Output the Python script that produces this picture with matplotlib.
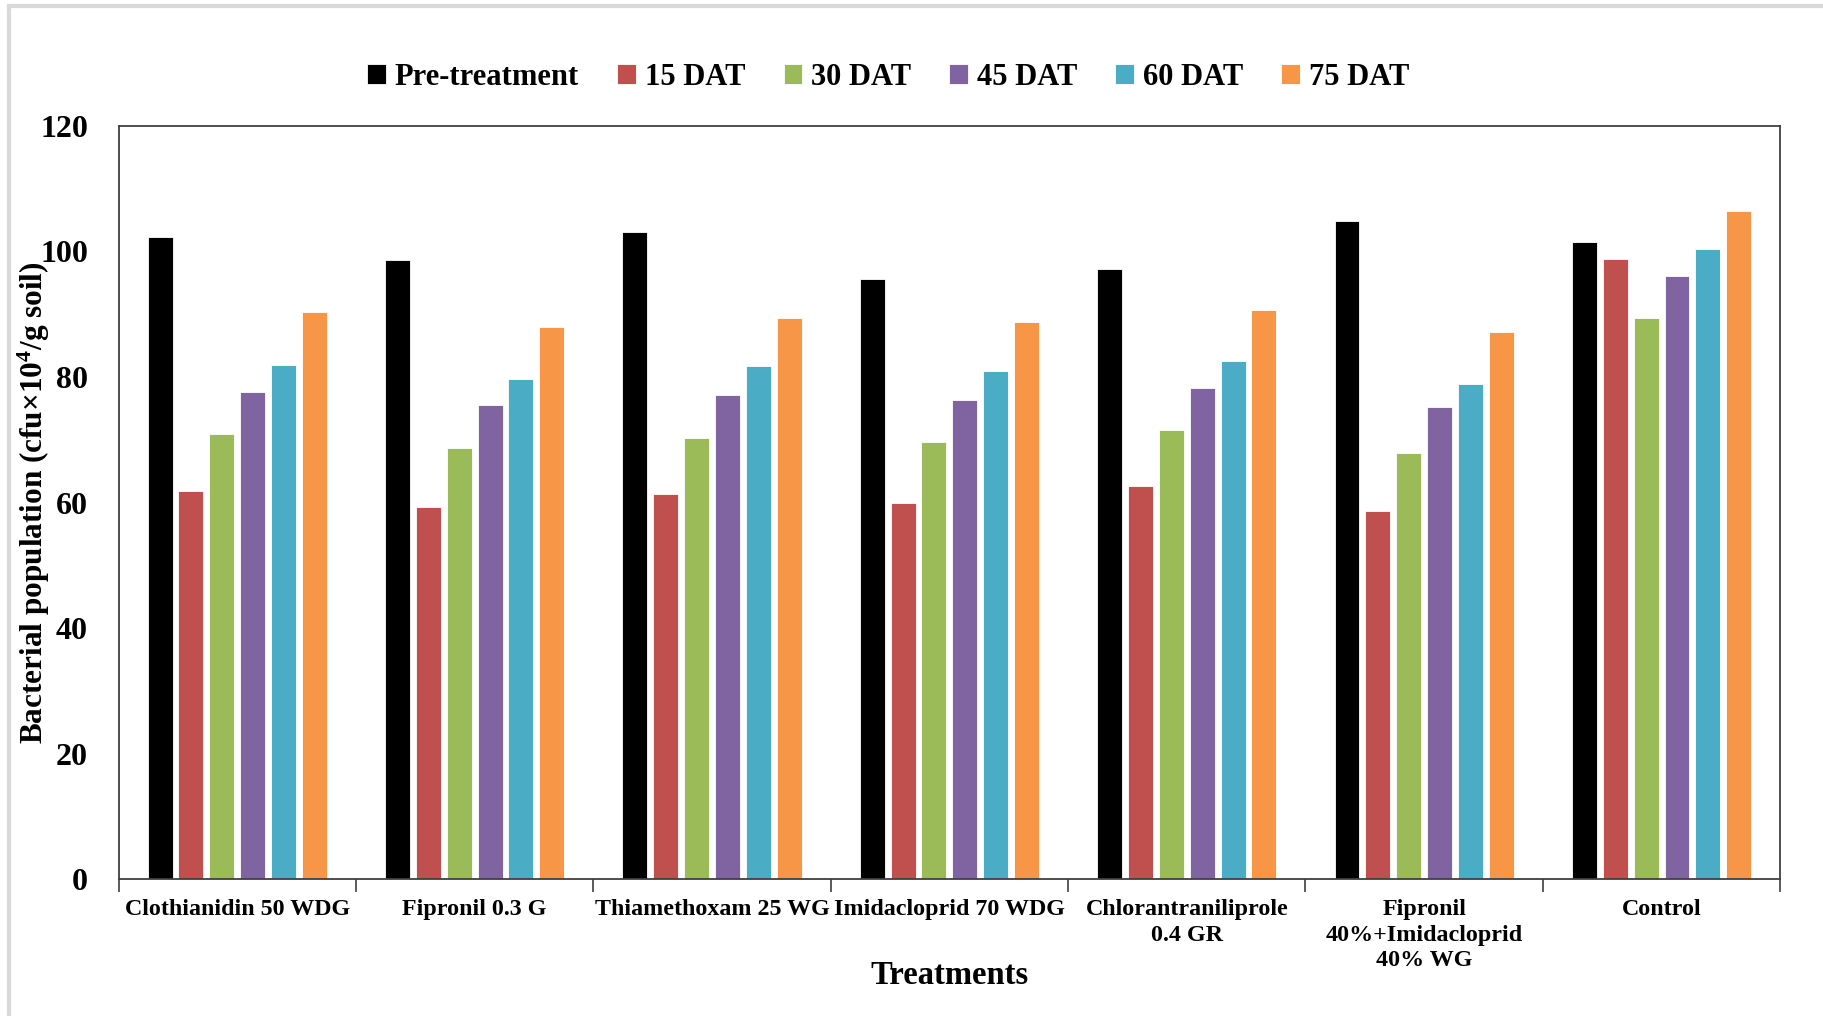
import matplotlib.pyplot as plt
import numpy as np

plt.rcParams['font.family'] = 'Liberation Serif'
plt.rcParams['font.weight'] = 'bold'
plt.rcParams['mathtext.fontset'] = 'custom'
plt.rcParams['mathtext.rm'] = 'Liberation Serif:bold'
plt.rcParams['mathtext.bf'] = 'Liberation Serif:bold'
plt.rcParams['mathtext.default'] = 'bf'

treatments = ['Clothianidin 50 WDG', 'Fipronil 0.3 G', 'Thiamethoxam 25 WG',
              'Imidacloprid 70 WDG', 'Chlorantraniliprole\n0.4 GR',
              'Fipronil\n40%+Imidacloprid\n40% WG', 'Control']
series_names = ['Pre-treatment', '15 DAT', '30 DAT', '45 DAT', '60 DAT', '75 DAT']

# values
pre_treatment = [102.3, 98.6, 103.0, 95.6, 97.1, 104.8, 101.4]
dat15 = [61.9, 59.3, 61.3, 59.9, 62.6, 58.7, 98.7]
dat30 = [70.9, 68.7, 70.3, 69.7, 71.5, 67.9, 89.3]
dat45 = [77.6, 75.6, 77.1, 76.3, 78.3, 75.2, 96.1]
dat60 = [81.9, 79.7, 81.7, 80.9, 82.6, 78.9, 100.3]
dat75 = [90.3, 88.0, 89.3, 88.7, 90.7, 87.2, 106.4]

colors = ['#000000', '#C0504D', '#9BBB59', '#8064A2', '#4BACC6', '#F79646']
all_series = [pre_treatment, dat15, dat30, dat45, dat60, dat75]

fig = plt.figure(figsize=(18.24, 10.16), dpi=100)
ax = fig.add_axes([0.065, 0.1344, 0.911, 0.742])

x = np.arange(len(treatments))
pitch = 0.13
width = 0.105
for i, (name, vals, c) in enumerate(zip(series_names, all_series, colors)):
    ax.bar(x + (i - 2.5) * pitch, vals, width, color=c, label=name,
           edgecolor='white', linewidth=0.6)

ax.set_xlim(-0.5, len(treatments) - 0.5)
ax.set_ylim(0, 120)
ax.set_yticks(np.arange(0, 121, 20))
ax.tick_params(axis='y', length=0, labelsize=23, pad=22)

ax.set_xticks(x)
ax.set_xticklabels(treatments, fontsize=17.3, fontweight='bold',
                   linespacing=1.3)
ax.set_xticks(np.arange(-0.5, len(treatments)), minor=True)
ax.tick_params(axis='x', which='major', length=0, pad=14)
ax.tick_params(axis='x', which='minor', length=9, width=1.2, color='#404040')

for s in ax.spines.values():
    s.set_color('#404040')
    s.set_linewidth(1.3)

ax.set_xlabel('Treatments', fontsize=23.5, fontweight='bold')
ax.xaxis.set_label_coords(0.5, -0.107)
ax.set_ylabel('Bacterial population (cfu×10$^{4}$/g soil)', fontsize=22.5,
              fontweight='bold')
ax.yaxis.set_label_coords(-0.04, 0.5)

leg = fig.legend(loc='center', bbox_to_anchor=(0.487, 0.924), ncol=6,
                 frameon=False, fontsize=22, handlelength=0.6,
                 handleheight=0.6, handletextpad=0.3, columnspacing=1.25)

# light gray outer frame like the reference screenshot
fig.add_artist(plt.Line2D([0.005, 0.005], [0, 0.994], color='#d9d9d9', lw=3,
                          transform=fig.transFigure))
fig.add_artist(plt.Line2D([0.005, 1.0], [0.994, 0.994], color='#d9d9d9', lw=3,
                          transform=fig.transFigure))

fig.savefig('out.png', dpi=100)
